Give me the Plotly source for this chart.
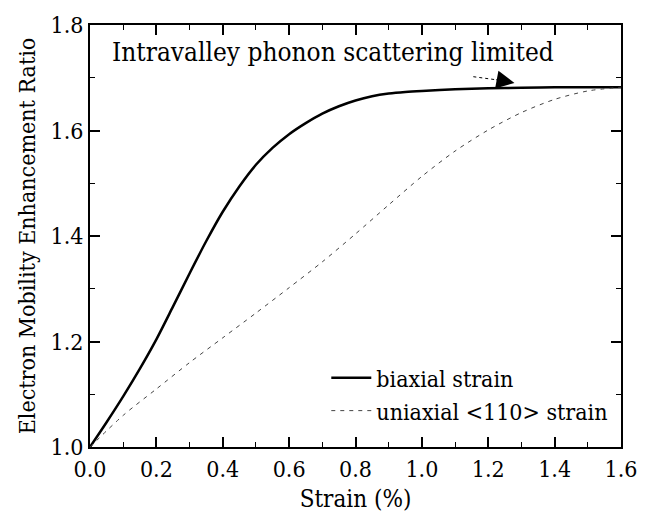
import plotly.graph_objects as go

strain_bi = [0.0, 0.05, 0.1, 0.15, 0.2, 0.25, 0.3, 0.35, 0.4, 0.45, 0.5, 0.55, 0.6, 0.65,
             0.7, 0.75, 0.8, 0.85, 0.9, 0.95, 1.0, 1.1, 1.2, 1.3, 1.4, 1.6]
ratio_bi = [1.0, 1.047, 1.096, 1.148, 1.204, 1.266, 1.329, 1.390, 1.446, 1.494, 1.535, 1.567,
            1.593, 1.614, 1.632, 1.646, 1.657, 1.665, 1.670, 1.673, 1.675, 1.678, 1.680,
            1.681, 1.682, 1.682]

strain_uni = [0.0, 0.1, 0.2, 0.3, 0.4, 0.5, 0.6, 0.7, 0.8, 0.9, 1.0, 1.1, 1.2, 1.3, 1.4, 1.5, 1.6]
ratio_uni = [1.0, 1.06, 1.11, 1.16, 1.207, 1.254, 1.302, 1.351, 1.404, 1.459, 1.513, 1.561,
             1.601, 1.634, 1.659, 1.675, 1.682]

series_names = ["biaxial strain", "uniaxial &lt;110&gt; strain"]
x_ticks = [0.0, 0.2, 0.4, 0.6, 0.8, 1.0, 1.2, 1.4, 1.6]
y_ticks = [1.0, 1.2, 1.4, 1.6, 1.8]
note_text = "Intravalley phonon scattering limited"

FONT = "DejaVu Serif Condensed"

fig = go.Figure()
fig.add_trace(go.Scatter(x=strain_bi, y=ratio_bi, mode="lines", name=series_names[0],
                         line=dict(color="black", width=2.5, shape="spline", smoothing=0.8)))
fig.add_trace(go.Scatter(x=strain_uni, y=ratio_uni, mode="lines", name=series_names[1],
                         line=dict(color="#444444", width=1, dash="4px,5px", shape="spline",
                                   smoothing=0.8)))

axis_common = dict(
    showgrid=False, zeroline=False, showline=True, linecolor="black", linewidth=2,
    mirror="allticks", ticks="inside", ticklen=10, tickwidth=1.5, tickcolor="black",
    tickfont=dict(family=FONT, size=23, color="black"),
)

fig.update_xaxes(range=[0, 1.6], tickvals=x_ticks, ticktext=[f"{v:.1f}" for v in x_ticks],
                 minor=dict(ticks="inside", ticklen=5, tickwidth=1.2, tickcolor="black", dtick=0.1,
                            tick0=0),
                 title=dict(text="Strain (%)", font=dict(family=FONT, size=24, color="black"),
                            standoff=10),
                 **axis_common)
fig.update_yaxes(range=[1.0, 1.8], tickvals=y_ticks, ticktext=[f"{v:.1f}" for v in y_ticks],
                 minor=dict(ticks="inside", ticklen=5, tickwidth=1.2, tickcolor="black", dtick=0.1,
                            tick0=1.0),
                 title=dict(text="Electron Mobility Enhancement Ratio",
                            font=dict(family=FONT, size=23, color="black"), standoff=8),
                 **axis_common)

fig.add_annotation(x=0.06, y=1.748, xref="x", yref="y", text=note_text, showarrow=False,
                   xanchor="left", yanchor="middle",
                   font=dict(family=FONT, size=26, color="black"))
fig.add_shape(type="line", x0=1.155, y0=1.702, x1=1.25, y1=1.694, xref="x", yref="y",
              line=dict(color="black", width=1, dash="dot"))
fig.add_annotation(x=1.279, y=1.690, ax=1.22, ay=1.697, xref="x", yref="y", axref="x", ayref="y",
                   text="", showarrow=True, arrowhead=2, arrowsize=3, arrowwidth=1.2,
                   arrowcolor="black")

fig.update_layout(
    width=649, height=520, margin=dict(l=90, r=25, t=18, b=68),
    paper_bgcolor="white", plot_bgcolor="white",
    font=dict(family=FONT, color="black"),
    showlegend=True,
    legend=dict(x=0.445, y=0.215, xanchor="left", yanchor="top", bgcolor="rgba(0,0,0,0)",
                font=dict(family=FONT, size=23, color="black"), tracegroupgap=0,
                itemwidth=40),
)

fig.write_html("out.html")
